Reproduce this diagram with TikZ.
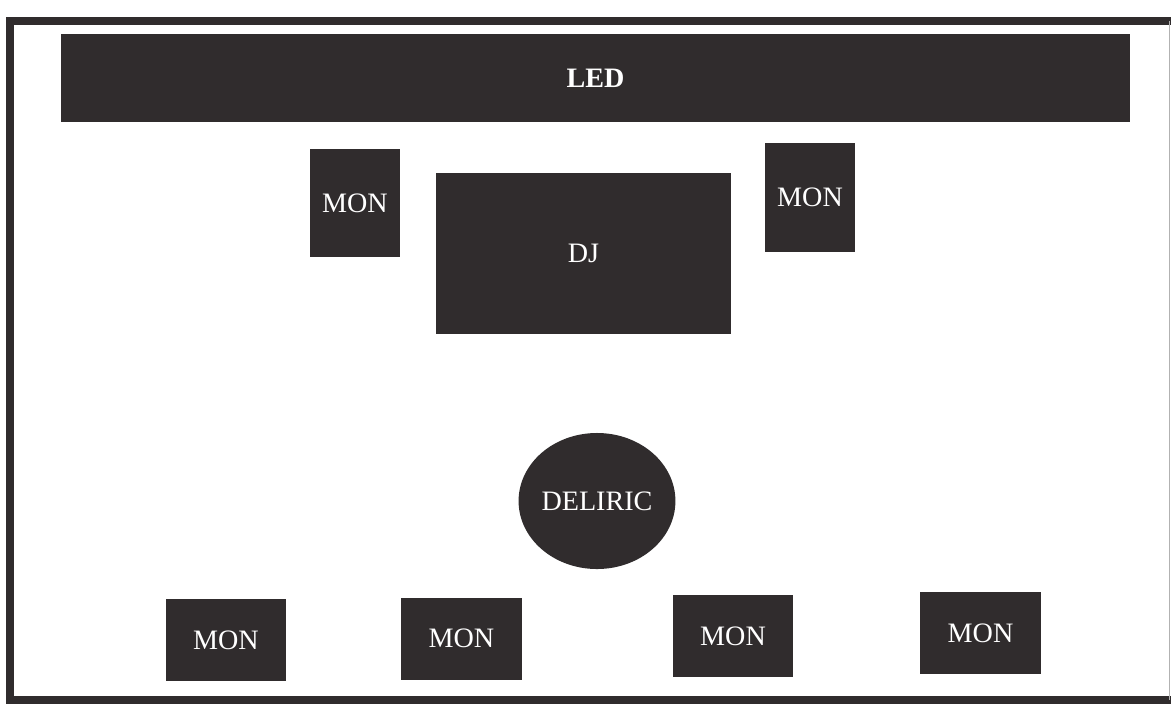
\documentclass[tikz,border=0pt]{standalone}
\usepackage{fontspec}
\setmainfont{Liberation Serif}
\usetikzlibrary{shapes.geometric}
\definecolor{stagegray}{RGB}{48,44,45}

\tikzset{
  stagebox/.style={fill=stagegray, text=white, inner sep=0pt, font=\fontsize{20}{24}\selectfont},
  topmon/.style={stagebox, minimum width=2.25cm, minimum height=2.7cm},
  floormon/.style={stagebox, minimum width=3cm, minimum height=2.05cm}
}

\begin{document}
\begin{tikzpicture}[x=0.025cm,y=-0.025cm]
\useasboundingbox (0,0) rectangle (1171,706);

% Stage outline (right side only a thin edge)
\draw[line width=0.2cm, draw=stagegray] (1171,21) -- (10,21) -- (10,700) -- (1171,700);
\draw[thin, draw=gray!60] (1169,21) -- (1169,700);

% LED wall at the back
\node[stagebox, minimum width=26.725cm, minimum height=2.175cm, font=\fontsize{20}{24}\selectfont\bfseries] (led) at (595.5,78) {LED};

% DJ riser with its two monitors
\node[topmon] (monleft) at (355,203) {MON};
\node[stagebox, minimum width=7.375cm, minimum height=4.025cm] (dj) at (583.5,253.5) {\raisebox{-4pt}{DJ}};
\node[topmon] (monright) at (810,197.5) {MON};

% Artist position
\node[stagebox, ellipse, minimum width=3.75cm, minimum height=3.4cm] (deliric) at (597,501) {DELIRIC};

% Floor monitors along the front
\node[floormon] (monfa) at (226,640) {MON};
\node[floormon] (monfb) at (461.5,638.5) {MON};
\node[floormon] (monfc) at (733,636) {MON};
\node[floormon] (monfd) at (980.5,633) {MON};

\end{tikzpicture}
\end{document}
